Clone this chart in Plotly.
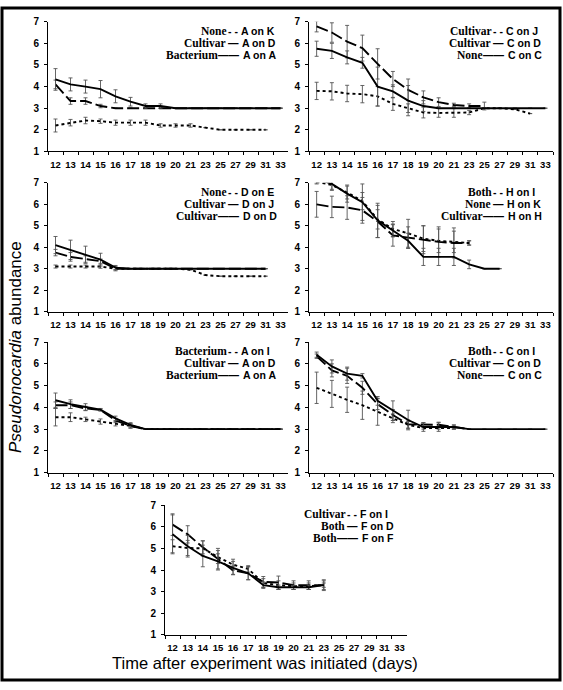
import plotly.graph_objects as go

days = ["12", "13", "14", "15", "16", "17", "18", "19", "20", "21", "23", "25", "27", "29", "31", "33"]
y_ticks = [1, 2, 3, 4, 5, 6, 7]

# Panel 1: A on K / A on D / A on A
p1_short = [2.2, 2.33, 2.43, 2.4, 2.33, 2.33, 2.33, 2.2, 2.2, 2.2, 2.1, 2.0, 2.0, 2.0, 2.0]
p1_short_err = [0.3, 0.15, 0.15, 0.1, 0.12, 0.12, 0.12, 0.08, 0.08, 0.08, 0, 0, 0, 0, 0]
p1_long = [4.1, 3.33, 3.33, 3.1, 3.0, 3.0, 3.0, 3.0, 3.0, 3.0, 3.0, 3.0, 3.0, 3.0, 3.0, 3.0]
p1_long_err = [0.2, 0.15, 0.15, 0.08, 0, 0, 0, 0, 0, 0, 0, 0, 0, 0, 0, 0]
p1_solid = [4.33, 4.1, 4.0, 3.88, 3.55, 3.3, 3.1, 3.1, 3.0, 3.0, 3.0, 3.0, 3.0, 3.0, 3.0, 3.0]
p1_solid_err = [0.5, 0.3, 0.3, 0.4, 0.3, 0.2, 0.1, 0.1, 0, 0, 0, 0, 0, 0, 0, 0]
p1_labels = [("None", "A on K"), ("Cultivar", "A on D"), ("Bacterium", "A on A")]

# Panel 2: C on J / C on D / C on C
p2_short = [3.8, 3.78, 3.68, 3.65, 3.55, 3.2, 3.0, 2.8, 2.78, 2.78, 2.8, 3.0, 3.0, 2.95, 2.75]
p2_short_err = [0.4, 0.4, 0.38, 0.4, 0.45, 0.3, 0.2, 0.25, 0.2, 0.2, 0.1, 0, 0, 0, 0]
p2_long = [6.78, 6.5, 6.08, 5.78, 5.05, 4.35, 3.85, 3.5, 3.28, 3.15, 3.1, 3.1]
p2_long_err = [0.25, 0.45, 0.75, 0.6, 0.7, 0.35, 0.5, 0.3, 0.2, 0.08, 0.1, 0.18]
p2_solid = [5.75, 5.65, 5.35, 5.1, 4.0, 3.78, 3.35, 3.1, 3.0, 3.0, 3.0, 3.0, 3.0, 3.0, 3.0, 3.0]
p2_solid_err = [0.35, 0.35, 0.3, 0.25, 0.9, 0.3, 0.7, 0.25, 0, 0, 0, 0, 0, 0, 0, 0]
p2_labels = [("Cultivar", "C on J"), ("Cultivar", "C on D"), ("None", "C on C")]

# Panel 3: D on E / D on J / D on D
p3_short = [3.1, 3.1, 3.1, 3.1, 3.0, 3.0, 3.0, 3.0, 3.0, 2.95, 2.7, 2.65, 2.65, 2.65, 2.65]
p3_short_err = [0.07, 0.07, 0.07, 0.08, 0.05, 0, 0, 0, 0, 0, 0, 0, 0, 0, 0]
p3_long = [3.75, 3.55, 3.45, 3.35, 3.0, 3.0, 3.0, 3.0, 3.0, 3.0, 3.0, 3.0, 3.0, 3.0, 3.0]
p3_long_err = [0.15, 0.2, 0.15, 0.1, 0.1, 0, 0, 0, 0, 0, 0, 0, 0, 0, 0]
p3_solid = [4.1, 3.88, 3.65, 3.42, 3.05, 3.0, 3.0, 3.0, 3.0, 3.0, 3.0, 3.0, 3.0, 3.0, 3.0]
p3_solid_err = [0.4, 0.45, 0.4, 0.3, 0.1, 0, 0, 0, 0, 0, 0, 0, 0, 0, 0]
p3_labels = [("None", "D on E"), ("Cultivar", "D on J"), ("Cultivar", "D on D")]

# Panel 4: H on I / H on K / H on H
p4_short = [7.05, 6.9, 6.55, 6.15, 5.3, 4.85, 4.65, 4.4, 4.3, 4.25, 4.2]
p4_short_err = [0.1, 0.2, 0.3, 0.4, 0.45, 0.35, 0.65, 0.6, 0.55, 0.5, 0.1]
p4_long = [6.0, 5.88, 5.85, 5.72, 5.2, 4.55, 4.45, 4.35, 4.25, 4.2, 4.2]
p4_long_err = [0.6, 0.5, 0.55, 0.6, 0.75, 0.5, 0.5, 0.65, 0.7, 0.7, 0.1]
p4_solid = [7.2, 6.95, 6.5, 6.1, 5.25, 4.78, 4.3, 3.55, 3.55, 3.55, 3.2, 3.0, 3.0]
p4_solid_err = [0.2, 0.3, 0.4, 0.85, 0.8, 0.3, 0.35, 0.4, 0.4, 0.4, 0.2, 0, 0]
p4_labels = [("Both", "H on I"), ("None", "H on K"), ("Cultivar", "H on H")]

# Panel 5: A on I / A on D / A on A
p5_short = [3.55, 3.55, 3.45, 3.35, 3.25, 3.15, 3.0, 3.0, 3.0, 3.0, 3.0, 3.0, 3.0, 3.0, 3.0, 3.0]
p5_short_err = [0.4, 0.2, 0.1, 0.12, 0.1, 0.1, 0, 0, 0, 0, 0, 0, 0, 0, 0, 0]
p5_long = [4.1, 4.1, 3.95, 3.88, 3.4, 3.15, 3.0, 3.0, 3.0, 3.0, 3.0, 3.0, 3.0, 3.0, 3.0, 3.0]
p5_long_err = [0.15, 0.15, 0.1, 0.05, 0.1, 0.1, 0, 0, 0, 0, 0, 0, 0, 0, 0, 0]
p5_solid = [4.33, 4.15, 4.02, 3.9, 3.5, 3.2, 3.0, 3.0, 3.0, 3.0, 3.0, 3.0, 3.0, 3.0, 3.0, 3.0]
p5_solid_err = [0.33, 0.2, 0.15, 0.05, 0.1, 0.1, 0, 0, 0, 0, 0, 0, 0, 0, 0, 0]
p5_labels = [("Bacterium", "A on I"), ("Cultivar", "A on D"), ("Bacterium", "A on A")]

# Panel 6: C on I / C on D / C on C
p6_short = [4.9, 4.62, 4.35, 4.1, 3.8, 3.5, 3.2, 3.05, 3.05, 3.05]
p6_short_err = [0.72, 0.62, 0.58, 0.65, 0.62, 0.2, 0.15, 0.05, 0.05, 0.05]
p6_long = [6.35, 5.7, 5.45, 4.9, 4.15, 3.65, 3.22, 3.2, 3.2, 3.1, 3.0]
p6_long_err = [0.1, 0.3, 0.35, 0.3, 0.25, 0.25, 0.2, 0.1, 0.12, 0.08, 0]
p6_solid = [6.42, 5.88, 5.55, 5.45, 4.3, 3.85, 3.42, 3.1, 3.1, 3.1, 3.0, 3.0, 3.0, 3.0, 3.0, 3.0]
p6_solid_err = [0.12, 0.3, 0.3, 0.1, 0.2, 0.45, 0.45, 0.2, 0.2, 0.1, 0, 0, 0, 0, 0, 0]
p6_labels = [("Both", "C on I"), ("Cultivar", "C on D"), ("None", "C on C")]

# Panel 7: F on I / F on D / F on F
p7_short = [5.1, 5.02, 5.0, 4.6, 4.25, 4.05, 3.4, 3.3, 3.25, 3.25, 3.3]
p7_short_err = [0.3, 0.35, 0.35, 0.3, 0.25, 0.15, 0.2, 0.2, 0.15, 0.15, 0.2]
p7_long = [6.1, 5.65, 5.05, 4.5, 3.98, 3.85, 3.45, 3.42, 3.3, 3.3, 3.3]
p7_long_err = [0.5, 0.4, 0.3, 0.5, 0.2, 0.3, 0.25, 0.3, 0.2, 0.2, 0.25]
p7_solid = [5.65, 5.1, 4.65, 4.4, 4.1, 3.85, 3.3, 3.2, 3.2, 3.2, 3.3]
p7_solid_err = [0.9, 0.5, 0.5, 0.35, 0.3, 0.3, 0.15, 0.1, 0.1, 0.1, 0.1]
p7_labels = [("Cultivar", "F on I"), ("Both", "F on D"), ("Both", "F on F")]

panels = [
    (p1_short, p1_short_err, p1_long, p1_long_err, p1_solid, p1_solid_err, p1_labels),
    (p2_short, p2_short_err, p2_long, p2_long_err, p2_solid, p2_solid_err, p2_labels),
    (p3_short, p3_short_err, p3_long, p3_long_err, p3_solid, p3_solid_err, p3_labels),
    (p4_short, p4_short_err, p4_long, p4_long_err, p4_solid, p4_solid_err, p4_labels),
    (p5_short, p5_short_err, p5_long, p5_long_err, p5_solid, p5_solid_err, p5_labels),
    (p6_short, p6_short_err, p6_long, p6_long_err, p6_solid, p6_solid_err, p6_labels),
    (p7_short, p7_short_err, p7_long, p7_long_err, p7_solid, p7_solid_err, p7_labels),
]

W, H = 563, 690
# pixel boxes: x0, x1, ytop, ybottom
boxes = [
    (48, 288, 16, 148), (309, 553, 16, 148),
    (48, 288, 180, 311), (309, 553, 180, 311),
    (48, 288, 342, 475), (309, 553, 342, 475),
    (165, 407, 508, 640),
]

SANS = "Liberation Sans"
SERIF = "Liberation Serif"

fig = go.Figure()
layout = dict(
    width=W, height=H, margin=dict(l=0, r=0, t=0, b=0),
    paper_bgcolor="white", plot_bgcolor="white", showlegend=False,
    annotations=[], shapes=[],
)

styles = [("3px,3px", 1.9), ("12px,4px", 1.9), ("solid", 1.9)]
samples = ["-\u00a0-", "\u2014", "\u2014\u2014"]
sample_w = [10, 12, 21]   # approx pixel width of sample text
label_from_right = [48, 47, 46]

for i, (panel, box) in enumerate(zip(panels, boxes)):
    n = i + 1
    xa = "x" if n == 1 else f"x{n}"
    ya = "y" if n == 1 else f"y{n}"
    xk = "xaxis" if n == 1 else f"xaxis{n}"
    yk = "yaxis" if n == 1 else f"yaxis{n}"
    x0, x1, yt, yb = box
    layout[xk] = dict(
        domain=[x0 / W, x1 / W], anchor=ya, type="category",
        categoryorder="array", categoryarray=days, range=[-0.5, 15.5],
        showline=True, linecolor="black", linewidth=1, showgrid=False,
        ticks="outside", ticklen=3, tickcolor="black", tickson="boundaries",
        tickangle=0, ticklabelstandoff=4, ticklabeloverflow="allow",
        tickfont=dict(family=SANS, size=9.5, color="black", weight="bold"),
        zeroline=False, fixedrange=True,
    )
    layout[yk] = dict(
        domain=[1 - yb / H, 1 - yt / H], anchor=xa, range=[1, 7],
        tickvals=y_ticks, showline=True, linecolor="black", linewidth=1,
        showgrid=False, ticks="outside", ticklen=3, tickcolor="black",
        ticklabelstandoff=3,
        tickfont=dict(family=SANS, size=10, color="black", weight="bold"),
        zeroline=False, fixedrange=True,
    )
    series = [(panel[0], panel[1]), (panel[2], panel[3]), (panel[4], panel[5])]
    for (vals, errs), (dash, w) in zip(series, styles):
        fig.add_trace(go.Scatter(
            x=days[:len(vals)], y=vals, xaxis=xa, yaxis=ya, mode="lines",
            line=dict(color="black", width=w, dash=dash),
            error_y=dict(type="data", array=errs, visible=True,
                         color="#555555", thickness=0.9, width=2),
            hoverinfo="skip",
        ))
    labels = panel[6]
    ph = yb - yt
    pw = x1 - x0
    for r, ((word, lab), samp) in enumerate(zip(labels, samples)):
        off = 9 + r * 12.3
        yy = 1 - off / ph
        lx = pw - label_from_right[r]
        sx = lx - 1
        wx = sx - sample_w[r] - 1
        layout["annotations"].append(dict(
            xref=f"{xa} domain", yref=f"{ya} domain",
            x=lx / pw, y=yy, xanchor="left", yanchor="middle",
            showarrow=False, text=lab, borderpad=0,
            font=dict(family=SANS, size=10.5, color="black", weight="bold"),
        ))
        layout["annotations"].append(dict(
            xref=f"{xa} domain", yref=f"{ya} domain",
            x=sx / pw, y=yy, xanchor="right", yanchor="middle",
            showarrow=False, text=samp, borderpad=0,
            font=dict(family=SANS, size=10.5, color="black", weight="bold"),
        ))
        layout["annotations"].append(dict(
            xref=f"{xa} domain", yref=f"{ya} domain",
            x=wx / pw, y=yy, xanchor="right", yanchor="middle",
            showarrow=False, text=word, borderpad=0,
            font=dict(family=SERIF, size=11.5, color="black", weight="bold"),
        ))

layout["annotations"].append(dict(
    xref="paper", yref="paper", x=16 / W, y=1 - 347 / H, showarrow=False,
    textangle=-90, xanchor="center", yanchor="middle",
    text="<i>Pseudonocardia</i> abundance",
    font=dict(family=SANS, size=17, color="black"),
))
layout["annotations"].append(dict(
    xref="paper", yref="paper", x=265 / W, y=1 - 669 / H, showarrow=False,
    xanchor="center", yanchor="middle",
    text="Time after experiment was initiated (days)",
    font=dict(family=SANS, size=16.5, color="black"),
))
layout["shapes"].append(dict(
    type="rect", xref="paper", yref="paper",
    x0=2 / W, x1=560 / W, y0=1 - 686 / H, y1=1 - 2 / H,
    line=dict(color="black", width=3), fillcolor="rgba(0,0,0,0)",
))

fig.update_layout(**layout)
fig.write_html(
    "out.html",
    config={"displayModeBar": False},
    post_script="document.body.style.margin='0';document.body.style.overflow='hidden';",
)
